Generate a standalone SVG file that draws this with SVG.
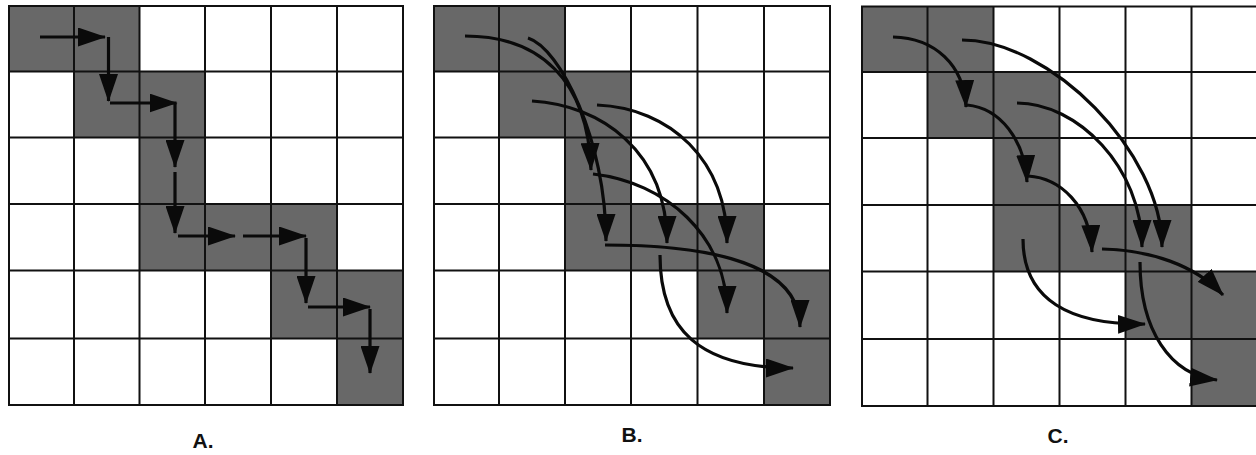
<svg xmlns="http://www.w3.org/2000/svg" width="1256" height="455" viewBox="0 0 1256 455">
<style>
.bg{fill:#ffffff}
.cell{fill:#686868}
.grid{fill:none;stroke:#111;stroke-width:2}
.arr{fill:none;stroke:#0a0a0a;stroke-width:3.2;marker-end:url(#ah)}
.lbl{font-family:"Liberation Sans",Arial,sans-serif;font-weight:bold;font-size:21px;fill:#111;text-anchor:middle}
</style>
<defs>
<marker id="ah" markerUnits="userSpaceOnUse" markerWidth="28" markerHeight="19" viewBox="0 0 28 19" refX="27" refY="9.5" orient="auto">
<path d="M0,0 L28,9.5 L0,19 z" fill="#0a0a0a"/>
</marker>
</defs>
<rect class="bg" x="0" y="0" width="1256" height="455"/>

<g id="panelA">
<g id="A-cells">
<rect class="cell" x="9" y="6" width="65" height="65.5"/>
<rect class="cell" x="74" y="6" width="65.5" height="65.5"/>
<rect class="cell" x="74" y="71.5" width="65.5" height="66"/>
<rect class="cell" x="139.5" y="71.5" width="65.5" height="66"/>
<rect class="cell" x="139.5" y="137.5" width="65.5" height="66.5"/>
<rect class="cell" x="139.5" y="204" width="65.5" height="66.5"/>
<rect class="cell" x="205" y="204" width="66" height="66.5"/>
<rect class="cell" x="271" y="204" width="66" height="66.5"/>
<rect class="cell" x="271" y="270.5" width="66" height="68"/>
<rect class="cell" x="337" y="270.5" width="66" height="68"/>
<rect class="cell" x="337" y="338.5" width="66" height="66.5"/>
</g>
<path class="grid" d="M9,6 H403 V405 H9 Z M74,6 V405 M139.5,6 V405 M205,6 V405 M271,6 V405 M337,6 V405 M9,71.5 H403 M9,137.5 H403 M9,204 H403 M9,270.5 H403 M9,338.5 H403"/>
<text class="lbl" x="203" y="448">A.</text>
</g>

<g id="panelB">
<g id="B-cells">
<rect class="cell" x="434" y="6" width="65" height="65.5"/>
<rect class="cell" x="499" y="6" width="66" height="65.5"/>
<rect class="cell" x="499" y="71.5" width="66" height="66"/>
<rect class="cell" x="565" y="71.5" width="66" height="66"/>
<rect class="cell" x="565" y="137.5" width="66" height="66.5"/>
<rect class="cell" x="565" y="204" width="66" height="66.5"/>
<rect class="cell" x="631" y="204" width="66.5" height="66.5"/>
<rect class="cell" x="697.5" y="204" width="66.5" height="66.5"/>
<rect class="cell" x="697.5" y="270.5" width="66.5" height="68"/>
<rect class="cell" x="764" y="270.5" width="66" height="68"/>
<rect class="cell" x="764" y="338.5" width="66" height="66.5"/>
</g>
<path class="grid" d="M434,6 H830 V405 H434 Z M499,6 V405 M565,6 V405 M631,6 V405 M697.5,6 V405 M764,6 V405 M434,71.5 H830 M434,137.5 H830 M434,204 H830 M434,270.5 H830 M434,338.5 H830"/>
<text class="lbl" x="632" y="442">B.</text>
</g>

<g id="panelC">
<g id="C-cells">
<rect class="cell" x="862" y="6.5" width="65.5" height="65.5"/>
<rect class="cell" x="927.5" y="6.5" width="66" height="65.5"/>
<rect class="cell" x="927.5" y="72" width="66" height="66"/>
<rect class="cell" x="993.5" y="72" width="66" height="66"/>
<rect class="cell" x="993.5" y="138" width="66" height="67"/>
<rect class="cell" x="993.5" y="205" width="66" height="66.5"/>
<rect class="cell" x="1059.5" y="205" width="66" height="66.5"/>
<rect class="cell" x="1125.5" y="205" width="66" height="66.5"/>
<rect class="cell" x="1125.5" y="271.5" width="66" height="67.5"/>
<rect class="cell" x="1191.5" y="271.5" width="66.5" height="67.5"/>
<rect class="cell" x="1191.5" y="339" width="66.5" height="67"/>
</g>
<path class="grid" d="M862,6.5 H1258 V406 H862 Z M927.5,6.5 V406 M993.5,6.5 V406 M1059.5,6.5 V406 M1125.5,6.5 V406 M1191.5,6.5 V406 M862,72 H1258 M862,138 H1258 M862,205 H1258 M862,271.5 H1258 M862,339 H1258"/>
<text class="lbl" x="1058" y="443">C.</text>
</g>

<g id="connectors">
<g id="A-arrows">
<line class="arr" x1="40" y1="37" x2="105" y2="37"/>
<line class="arr" x1="108.5" y1="37" x2="108.5" y2="101"/>
<line class="arr" x1="110" y1="103" x2="176.5" y2="103"/>
<line class="arr" x1="175" y1="103" x2="175" y2="167"/>
<line class="arr" x1="175" y1="172" x2="175" y2="233"/>
<line class="arr" x1="178" y1="236" x2="235" y2="236"/>
<line class="arr" x1="243" y1="236" x2="306" y2="236"/>
<line class="arr" x1="306" y1="238" x2="306" y2="303"/>
<line class="arr" x1="308" y1="307" x2="370" y2="307"/>
<line class="arr" x1="370" y1="309" x2="370" y2="373"/>
</g>
<g id="B-arrows">
<path class="arr" d="M465,36 C540,36 588,80 591,170"/>
<path class="arr" d="M528,38 C560,48 606,140 606,241"/>
<path class="arr" d="M532,101 C600,105 667,150 667,243"/>
<path class="arr" d="M597,105 C670,108 727,160 727,243"/>
<path class="arr" d="M593,174 C665,182 727,235 727,313"/>
<path class="arr" d="M605,245 C700,245 800,260 800,327"/>
<path class="arr" d="M660,255 C660,330 700,368 793,368"/>
</g>
<g id="C-arrows">
<path class="arr" d="M893,37 C935,38 964,65 966,107"/>
<path class="arr" d="M967,105 C1000,108 1025,140 1027,182"/>
<path class="arr" d="M1028,176 C1060,178 1090,205 1092,252"/>
<path class="arr" d="M1102,249 C1150,250 1195,265 1223,295"/>
<path class="arr" d="M962,40 C1050,40 1162,152 1162,247"/>
<path class="arr" d="M1017,103 C1077,103 1142,167 1142,247"/>
<path class="arr" d="M1023,239 C1023,300 1070,325 1145,324"/>
<path class="arr" d="M1140,262 C1140,330 1170,375 1217,380"/>
</g>
</g>
</svg>
